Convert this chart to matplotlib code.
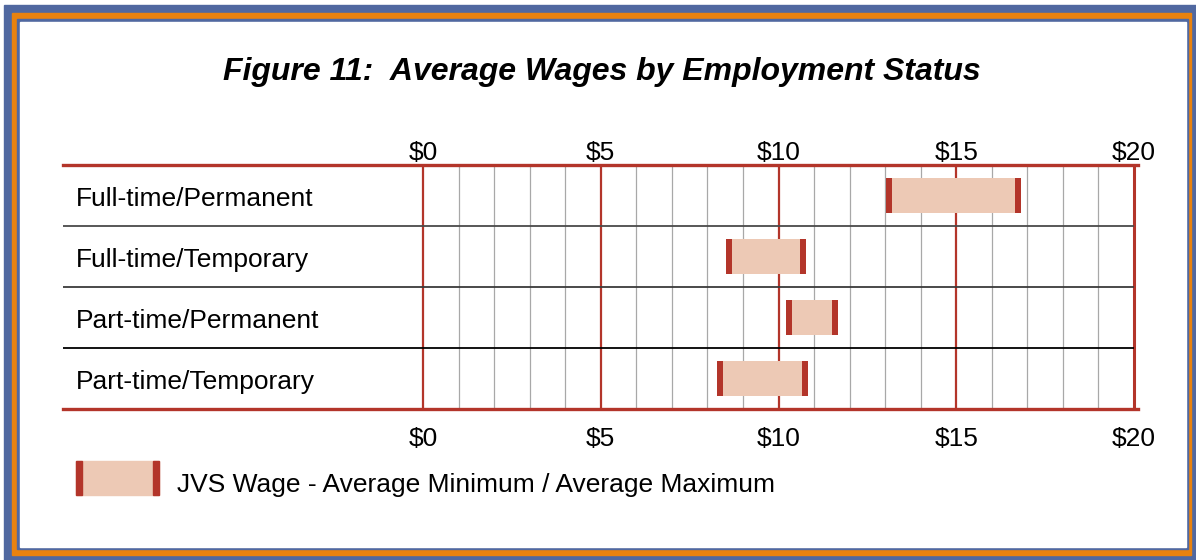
import numpy as np
import matplotlib.pyplot as plt
from matplotlib.patches import Rectangle

plt.rcParams['font.family'] = ['Liberation Sans', 'DejaVu Sans']

categories = ['Full-time/Permanent', 'Full-time/Temporary',
              'Part-time/Permanent', 'Part-time/Temporary']
wage_min = [13.1, 8.6, 10.3, 8.35]
wage_max = [16.75, 10.7, 11.6, 10.75]
tick_vals = [0, 5, 10, 15, 20]
tick_labels = ['$0', '$5', '$10', '$15', '$20']

RED = '#B3352A'
PEACH = '#EDC9B5'
BLUE = '#5068A0'
ORANGE = '#E8820F'

W, H = 1196, 560
fig = plt.figure(figsize=(W / 100, H / 100), dpi=100)

# frame (pixel boxes -> figure fractions)
def box(x0, y0, x1, y1, color, z):
    fig.patches.append(Rectangle((x0 / W, 1 - y1 / H), (x1 - x0) / W, (y1 - y0) / H,
                                 transform=fig.transFigure, color=color, zorder=z))

box(4, 5, 1196, 560, BLUE, -4)
box(12, 13, 1191, 555, ORANGE, -3)
box(17, 19, 1188, 549, BLUE, -2)
box(20, 22, 1186, 547, 'white', -1)

fig.text(0.503, 1 - 72 / H, 'Figure 11:  Average Wages by Employment Status',
         ha='center', va='center', fontsize=23, fontweight='bold', style='italic')

# axes spans from the label area to the right edge; x=0 at px 423, x=20 at px 1134
px_per = (1134 - 423) / 20
x_left = (63 - 423) / px_per
x_right = (1138 - 423) / px_per
ax = fig.add_axes([63 / W, 1 - 409 / H, (1138 - 63) / W, (409 - 165) / H])
ax.set_zorder(1)
ax.set_xlim(x_left, x_right)
ax.set_ylim(4, 0)
ax.set_facecolor('none')
for s in ax.spines.values():
    s.set_visible(False)

# grid
for v in range(0, 21):
    if v % 5 == 0:
        ax.vlines(v, 0, 4, color=RED, lw=2.2 if v == 20 else 1.6, zorder=2)
    else:
        ax.vlines(v, 0, 4, color='#A8A8A8', lw=0.9, zorder=1)
sep_colors = ['#4a4a4a', '#3a3a3a', 'black']
for i in range(1, 4):
    ax.hlines(i, x_left, 20, color=sep_colors[i - 1], lw=1.3, zorder=2)
ax.axhline(0, color=RED, lw=2.4, zorder=3, clip_on=False)
ax.axhline(4, color=RED, lw=2.4, zorder=3, clip_on=False)

# bars
cap = 0.17
bh = 0.56
for i, (lo, hi) in enumerate(zip(wage_min, wage_max)):
    yc = i + 0.5
    ax.barh(yc, hi - lo, left=lo, height=bh, color=PEACH, zorder=4)
    ax.barh(yc, cap, left=lo - cap / 2, height=bh, color=RED, zorder=5)
    ax.barh(yc, cap, left=hi - cap / 2, height=bh, color=RED, zorder=5)
    ax.text(x_left + 0.37, yc + 0.05, categories[i], ha='left', va='center', fontsize=19)

ax.set_yticks([])
ax.set_xticks(tick_vals)
ax.set_xticklabels(tick_labels, fontsize=19)
ax.tick_params(axis='x', length=0, pad=13)
top = ax.secondary_xaxis('top')
top.set_xticks(tick_vals)
top.set_xticklabels(tick_labels, fontsize=19)
top.tick_params(axis='x', length=0, pad=0)
for s in top.spines.values():
    s.set_visible(False)

# legend
lx0, lx1 = 76, 159
ly0, ly1 = 461, 495
box(lx0, ly0, lx1, ly1, PEACH, 2)
box(lx0, ly0, lx0 + 6, ly1, RED, 3)
box(lx1 - 6, ly0, lx1, ly1, RED, 3)
fig.text(177 / W, 1 - 485 / H, 'JVS Wage - Average Minimum / Average Maximum',
         ha='left', va='center', fontsize=19)

fig.savefig('out.png', dpi=100)
